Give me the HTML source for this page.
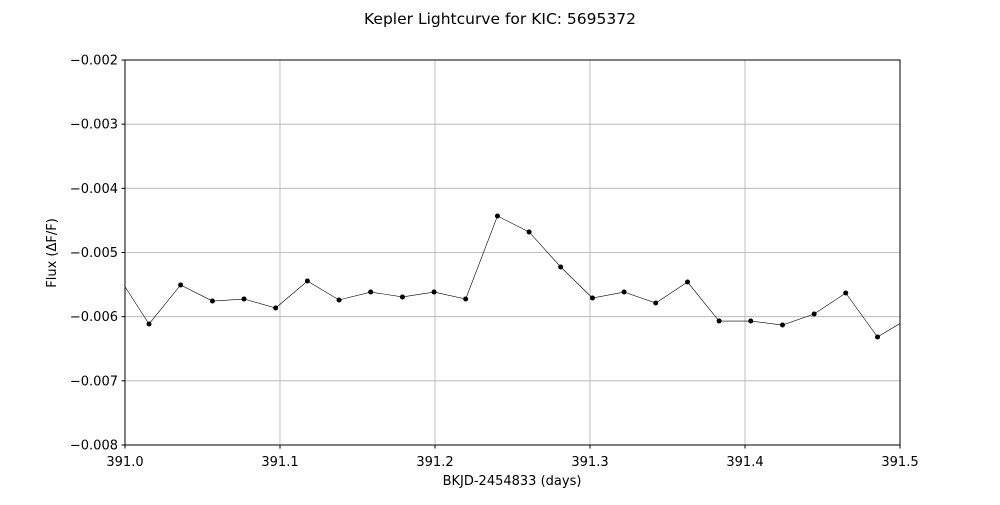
<!DOCTYPE html>
<html><head><meta charset="utf-8"><style>
body{margin:0;background:#fff;}
svg text{font-family:"DejaVu Sans","Liberation Sans",sans-serif;fill:#000;}
</style></head><body>
<svg id="chart" width="1000" height="500" xmlns="http://www.w3.org/2000/svg">
<rect width="1000" height="500" fill="#fff"/>
<text x="500" y="24" text-anchor="middle" font-size="15.5">Kepler Lightcurve for KIC: 5695372</text>
<defs><clipPath id="clip"><rect x="125" y="60" width="775" height="385"/></clipPath></defs>
<g id="grid"></g><g id="plot" clip-path="url(#clip)"></g>
<rect x="125" y="60" width="775" height="385" fill="none" stroke="#000" stroke-width="1"/>
<g id="axes"></g>
<text x="512" y="485" text-anchor="middle" font-size="13">BKJD-2454833 (days)</text>
<text transform="translate(56,253) rotate(-90)" text-anchor="middle" font-size="13">Flux (ΔF/F)</text>
</svg>
<script>
const xTicks=[391.0,391.1,391.2,391.3,391.4,391.5];
const xTickLabels=["391.0","391.1","391.2","391.3","391.4","391.5"];
const yTicks=[-0.002,-0.003,-0.004,-0.005,-0.006,-0.007,-0.008];
const yTickLabels=["−0.002","−0.003","−0.004","−0.005","−0.006","−0.007","−0.008"];
const times=[390.9951,391.0155,391.0359,391.0564,391.0768,391.0972,391.1177,391.1381,391.1585,391.1790,391.1994,391.2198,391.2403,391.2607,391.2811,391.3016,391.3220,391.3424,391.3629,391.3833,391.4037,391.4242,391.4446,391.4650,391.4855,391.5059];
const flux=[-0.005351,-0.006114,-0.005506,-0.005756,-0.005725,-0.005865,-0.005444,-0.00574,-0.005616,-0.005693,-0.005616,-0.005725,-0.004431,-0.00468,-0.005226,-0.005709,-0.005616,-0.005787,-0.00546,-0.006068,-0.006068,-0.00613,-0.005958,-0.005631,-0.006317,-0.006021];
const NS="http://www.w3.org/2000/svg";
const sx=v=>125+(v-391.0)/0.5*775;
const sy=v=>60+(-0.002-v)/0.006*385;
function mk(t,a,p){const e=document.createElementNS(NS,t);for(const k in a)e.setAttribute(k,a[k]);p.appendChild(e);return e;}
const grid=document.getElementById('grid'),axes=document.getElementById('axes'),plot=document.getElementById('plot');
xTicks.forEach((t,i)=>{const x=sx(t);
 const g=mk('line',{x1:x,x2:x,y1:60,y2:445,stroke:'#b0b0b0','stroke-width':0.8},grid);
 
 
 const tk=mk('line',{x1:x,x2:x,y1:445,y2:448.5,stroke:'#000'},axes);
 
 
 const l=mk('text',{x:x,y:466,'text-anchor':'middle','font-size':13},axes);l.textContent=xTickLabels[i];
 
 
});
yTicks.forEach((t,i)=>{const y=sy(t);
 const g=mk('line',{x1:125,x2:900,y1:y,y2:y,stroke:'#b0b0b0','stroke-width':0.8},grid);
 
 
 const tk=mk('line',{x1:121.5,x2:125,y1:y,y2:y,stroke:'#000'},axes);
 
 
 const l=mk('text',{x:118,y:y+4.5,'text-anchor':'end','font-size':13},axes);l.textContent=yTickLabels[i];
 
 
});
const pl=mk('polyline',{points:times.map((t,i)=>sx(t)+','+sy(flux[i])).join(' '),fill:'none',stroke:'#000','stroke-width':0.6},plot);


times.forEach((t,i)=>{const c=mk('circle',{cx:sx(t),cy:sy(flux[i]),r:2.5,fill:'#000'},plot);
 
 
});
</script>
</body></html>
